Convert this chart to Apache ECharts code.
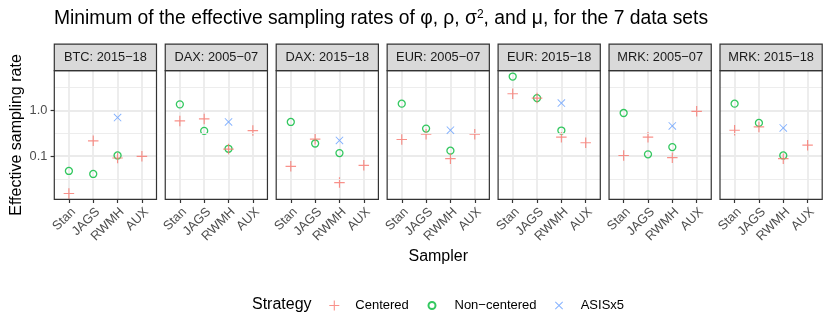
<!DOCTYPE html>
<html><head><meta charset="utf-8">
<script src="https://cdn.jsdelivr.net/npm/echarts@6/dist/echarts.min.js"></script>
<style>html,body{margin:0;padding:0;background:#fff}#c{width:830px;height:334px}</style>
</head><body><div id="c"></div>
<script>
// ---------- DATA ----------
const samplers = ['Stan', 'JAGS', 'RWMH', 'AUX'];
const dataSets = ['BTC: 2015−18', 'DAX: 2005−07', 'DAX: 2015−18', 'EUR: 2005−07', 'EUR: 2015−18', 'MRK: 2005−07', 'MRK: 2015−18'];
// values per data set, in sampler order [Stan, JAGS, RWMH, AUX]
const centered = [
  [0.0152, 0.215, 0.0905, 0.0984],
  [0.586, 0.648, 0.142, 0.361],
  [0.0596, 0.234, 0.0263, 0.0627],
  [0.230, 0.301, 0.0875, 0.301],
  [2.30, 1.85, 0.259, 0.195],
  [0.103, 0.259, 0.092, 0.951],
  [0.367, 0.434, 0.0875, 0.173]
];
const nonCentered = [
  [0.0472, 0.0406, 0.103, null],
  [1.35, 0.355, 0.144, null],
  [0.557, 0.188, 0.116, null],
  [1.40, 0.399, 0.131, null],
  [5.48, 1.85, 0.361, null],
  [0.875, 0.109, 0.157, null],
  [1.40, 0.530, 0.103, null]
];
const asisX5 = [
  [null, null, 0.693, null],
  [null, null, 0.557, null],
  [null, null, 0.219, null],
  [null, null, 0.367, null],
  [null, null, 1.44, null],
  [null, null, 0.456, null],
  [null, null, 0.413, null]
];
const yTickValues = [0.1, 1.0];
const yMinorValues = [0.0316, 0.316, 3.16];

// ---------- STYLE / LAYOUT ----------
const FONT = '"Liberation Sans", Arial, Helvetica, sans-serif';
const RED = '#F8766D', GREEN = '#00BA38', BLUE = '#619CFF';
const P_LEFT = 54.3, P_W = 102.2, P_STEP = 110.95, P_TOP = 70.7, P_H = 128.6, STRIP_H = 26.6;
const PLUS = 'path://M0,4.45H10V5.55H0Z M4.45,0H5.55V10H4.45Z';
const CROSS = 'path://M0,0.8L0.8,0L10,9.2L9.2,10Z M9.2,0L10,0.8L0.8,10L0,9.2Z';

const lg = v => Math.log10(v);
const allVals = [].concat(...centered, ...nonCentered, ...asisX5).filter(v => v != null).map(lg);
const dMin = Math.min(...allVals), dMax = Math.max(...allVals);
const pad = (dMax - dMin) * 0.05;
const yMin = dMin - pad, yMax = dMax + pad;

function pts(arr) {
  const out = [];
  arr.forEach((v, j) => { if (v != null) out.push([j, lg(v)]); });
  return out;
}

const grids = [], xAxes = [], yAxes = [], series = [], graphics = [];
dataSets.forEach((name, i) => {
  const left = P_LEFT + i * P_STEP;
  grids.push({ left: left, top: P_TOP, width: P_W, height: P_H, containLabel: false });
  xAxes.push({
    type: 'value', gridIndex: i, min: -0.6, max: 3.6, position: 'bottom',
    axisLine: { show: false, onZero: false },
    axisTick: { show: true, length: 3.7, customValues: [0, 1, 2, 3], lineStyle: { color: '#333333', width: 1.2 } },
    axisLabel: {
      show: true, customValues: [0, 1, 2, 3], rotate: 45, margin: 6,
      align: 'right', verticalAlign: 'top',
      formatter: v => samplers[Math.round(v)], color: '#4D4D4D', fontSize: 12.8, fontFamily: FONT
    },
    splitLine: { show: true, lineStyle: { color: '#EBEBEB', width: 1.8 } }
  });
  yAxes.push({
    type: 'value', gridIndex: i, min: yMin, max: yMax,
    name: i === 0 ? 'Effective sampling rate' : '',
    nameLocation: 'middle', nameGap: 30,
    nameTextStyle: { fontSize: 16, color: '#000', fontFamily: FONT },
    axisLine: { show: false, onZero: false },
    axisTick: { show: i === 0, length: 3.7, customValues: yTickValues.map(lg), lineStyle: { color: '#333333', width: 1.2 } },
    axisLabel: {
      show: i === 0, customValues: yTickValues.map(lg), margin: 7,
      formatter: v => Math.pow(10, v).toFixed(1), color: '#4D4D4D', fontSize: 12.8, fontFamily: FONT
    },
    splitLine: { show: true, lineStyle: { color: '#EBEBEB', width: 1.8 } }
  });
  series.push({
    type: 'scatter', xAxisIndex: i, yAxisIndex: i, data: [], silent: true, z: 1,
    markLine: {
      silent: true, symbol: 'none', label: { show: false }, animation: false,
      lineStyle: { color: '#EBEBEB', width: 0.9, type: 'solid' },
      emphasis: { disabled: true },
      data: yMinorValues.map(v => ({ yAxis: lg(v) }))
    }
  });
  series.push({
    type: 'scatter', name: 'Non-centered', xAxisIndex: i, yAxisIndex: i, data: pts(nonCentered[i]),
    symbol: 'circle', symbolSize: 7, z: 3,
    itemStyle: { color: 'rgba(0,0,0,0)', borderColor: GREEN, borderWidth: 1.3 },
    emphasis: { disabled: true }
  });
  series.push({
    type: 'scatter', name: 'Centered', xAxisIndex: i, yAxisIndex: i, data: pts(centered[i]),
    symbol: PLUS, symbolSize: 10.5, z: 4, itemStyle: { color: RED }, emphasis: { disabled: true }
  });
  series.push({
    type: 'scatter', name: 'ASISx5', xAxisIndex: i, yAxisIndex: i, data: pts(asisX5[i]),
    symbol: CROSS, symbolSize: 8, z: 5, itemStyle: { color: BLUE }, emphasis: { disabled: true }
  });
  // strip
  graphics.push({
    type: 'rect', shape: { x: left, y: P_TOP - STRIP_H, width: P_W, height: STRIP_H }, z: 10,
    style: { fill: '#D9D9D9', stroke: '#333333', lineWidth: 1.2 }
  });
  graphics.push({
    type: 'text', x: left + P_W / 2, y: P_TOP - STRIP_H / 2, z: 11,
    style: { text: name, fill: '#1A1A1A', font: '12.8px ' + FONT, align: 'center', verticalAlign: 'middle' }
  });
  // panel border
  graphics.push({
    type: 'rect', shape: { x: left, y: P_TOP, width: P_W, height: P_H }, z: 10,
    style: { fill: 'none', stroke: '#333333', lineWidth: 1.2 }
  });
});

graphics.push({
  type: 'text', x: P_LEFT + (6 * P_STEP + P_W) / 2, y: 257, z: 11,
  style: { text: 'Sampler', fill: '#000', font: '16px ' + FONT, align: 'center', verticalAlign: 'middle' }
});
graphics.push({
  type: 'text', x: 252, y: 305, z: 11,
  style: { text: 'Strategy', fill: '#000', font: '16px ' + FONT, align: 'left', verticalAlign: 'middle' }
});

const legendBase = {
  orient: 'horizontal', padding: 0, selectedMode: false,
  textStyle: { fontSize: 13, color: '#000', fontFamily: FONT }
};
const LEG_TOP = 299;
const legends = [
  Object.assign({}, legendBase, { data: ['Centered'], left: 329.3, top: LEG_TOP, itemWidth: 10, itemHeight: 10,
    textStyle: Object.assign({}, legendBase.textStyle, { padding: [0, 0, 0, 11] }) }),
  Object.assign({}, legendBase, { data: ['Non-centered'], left: 427.5, top: LEG_TOP, itemWidth: 7, itemHeight: 7,
    textStyle: Object.assign({}, legendBase.textStyle, { padding: [0, 0, 0, 14] }), formatter: () => 'Non−centered' }),
  Object.assign({}, legendBase, { data: ['ASISx5'], left: 555, top: LEG_TOP, itemWidth: 8, itemHeight: 8,
    textStyle: Object.assign({}, legendBase.textStyle, { padding: [0, 0, 0, 12.7] }) })
];

const chart = echarts.init(document.getElementById('c'), null, { renderer: 'canvas' });
chart.setOption({
  backgroundColor: '#fff',
  animation: false,
  title: {
    text: 'Minimum of the effective sampling rates of φ, ρ, σ{sup|2}, and μ, for the 7 data sets',
    left: 54, top: 9, padding: 0,
    textStyle: {
      fontSize: 19.3, fontWeight: 'normal', color: '#000', fontFamily: FONT,
      rich: { sup: { fontSize: 12, fontFamily: FONT, color: '#000', verticalAlign: 'top', padding: [0, 0, 0, 0] } }
    }
  },
  grid: grids, xAxis: xAxes, yAxis: yAxes, series: series,
  legend: legends,
  graphic: graphics
});
</script>
</body></html>
